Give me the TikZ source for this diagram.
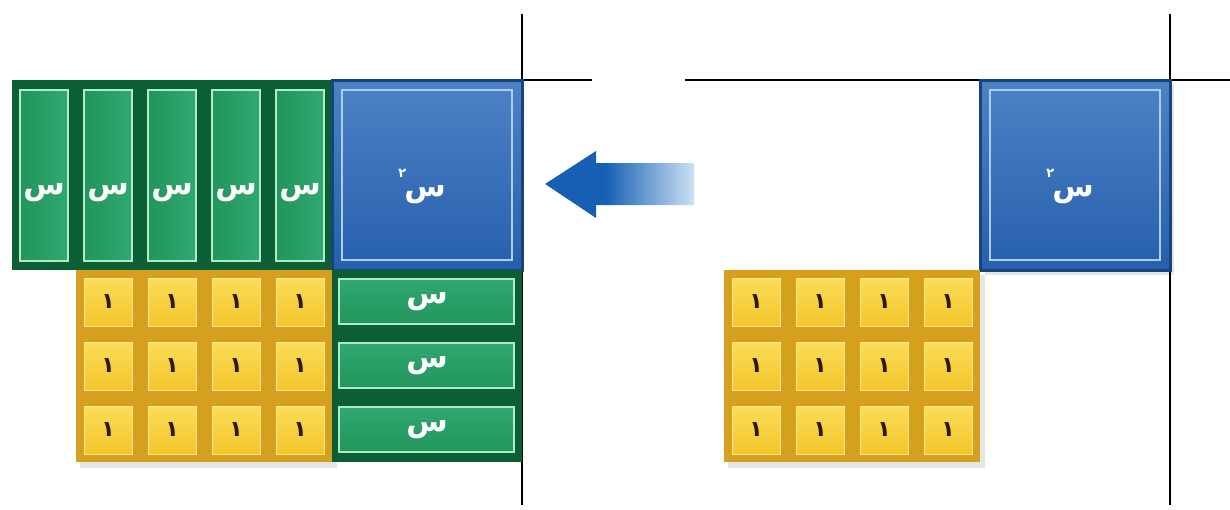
\documentclass[tikz,border=0pt]{standalone}
\usepackage{fontspec}
\newfontfamily\arabicfont[Script=Arabic]{DejaVu Sans}
\TeXXeTstate=1
\definecolor{gdark}{RGB}{12,95,52}
\definecolor{gleft}{RGB}{30,145,85}
\definecolor{gright}{RGB}{52,172,118}
\definecolor{gline}{RGB}{175,235,200}
\definecolor{bdark}{RGB}{22,68,125}
\definecolor{btop}{RGB}{78,130,198}
\definecolor{bbot}{RGB}{38,95,172}
\definecolor{bline}{RGB}{175,205,240}
\definecolor{ydark}{RGB}{212,160,30}
\definecolor{ytop}{RGB}{252,225,95}
\definecolor{ybot}{RGB}{242,192,35}
\definecolor{yline}{RGB}{250,232,150}
\definecolor{ytext}{RGB}{40,25,10}
\definecolor{adark}{RGB}{22,95,178}
\definecolor{alight}{RGB}{205,225,245}
\pgfdeclarehorizontalshading{arrowfade}{100bp}{color(0bp)=(adark); color(25bp)=(adark); color(45bp)=(adark); color(75bp)=(alight); color(100bp)=(alight)}
\tikzset{
  axisline/.style={black, line width=1.6pt},
  xlab/.style={font=\arabicfont\bfseries\fontsize{30}{32}\selectfont, text=white},
  onelab/.style={font=\arabicfont\bfseries\fontsize{22}{24}\selectfont, text=ytext},
  vstrip/.style={xlab, minimum width=64pt, minimum height=190pt, inner sep=0pt, outer sep=0pt,
    text height=38pt, text depth=0pt,
    anchor=north west, fill=gdark,
    path picture={\draw[gline, line width=1.3pt, left color=gleft, right color=gright]
      ([shift={(8pt,-10pt)}]path picture bounding box.north west) rectangle
      ([shift={(-8pt,9pt)}]path picture bounding box.south east);}},
  hstrip/.style={xlab, minimum width=190pt, minimum height=64pt, inner sep=0pt, outer sep=0pt,
    anchor=north west, fill=gdark,
    path picture={\draw[gline, line width=1.3pt, top color=gright, bottom color=gleft]
      ([shift={(7pt,-9pt)}]path picture bounding box.north west) rectangle
      ([shift={(-8pt,10pt)}]path picture bounding box.south east);}},
  xsq/.style={xlab, minimum width=190pt, minimum height=190pt, inner sep=0pt, outer sep=0pt,
    text height=42pt, text depth=0pt,
    anchor=north west, draw=bdark, line width=3pt, top color=btop, bottom color=bbot,
    path picture={\draw[bline, line width=1.3pt]
      ([shift={(10pt,-10pt)}]path picture bounding box.north west) rectangle
      ([shift={(-10pt,10pt)}]path picture bounding box.south east);}},
  unit/.style={onelab, minimum width=64pt, minimum height=64pt, inner sep=0pt, outer sep=0pt,
    anchor=north west, fill=ydark,
    path picture={\draw[yline, line width=1pt, top color=ytop, bottom color=ybot]
      ([shift={(8pt,-8pt)}]path picture bounding box.north west) rectangle
      ([shift={(-8pt,8pt)}]path picture bounding box.south east);}},
  shadowbox/.style={fill=black, opacity=0.10}
}
\newcommand{\xsqtext}{\beginR\kern10pt س\kern-2pt\raisebox{0.62em}{\fontsize{13}{13}\selectfont ٢}\endR}
\begin{document}
\begin{tikzpicture}[x=1pt,y=-1pt]
\useasboundingbox (0,0) rectangle (1230,509);
% axes
\coordinate (vLt) at (522,14); \coordinate (vLb) at (522,505);
\coordinate (hLl) at (522,80); \coordinate (hLr) at (592,80);
\coordinate (vRt) at (1170,14); \coordinate (vRb) at (1170,505);
\coordinate (hRl) at (685,80); \coordinate (hRr) at (1230,80);
\draw[axisline] (vLt) -- (vLb);
\draw[axisline] (hLl) -- (hLr);
\draw[axisline] (vRt) -- (vRb);
\draw[axisline] (hRl) -- (hRr);
% shadows
\fill[shadowbox] (80,275) rectangle (337,468);
\fill[shadowbox] (728,275) rectangle (985,468);
\fill[shadowbox] (985,85) rectangle (1174,275);
% left: x-strips and x^2
\foreach \k in {0,...,4}{
  \node[vstrip] (s\k) at ({12+64*\k},80) {\beginR س\endR};
}
\node[xsq] (bsqL) at (332,80) {\xsqtext};
% left: unit tiles
\foreach \i in {0,...,3}{
  \foreach \j in {0,...,2}{
    \node[unit] (uL\i\j) at ({76+64*\i},{270+64*\j}) {١};
  }
}
\foreach \j in {0,...,2}{
  \node[hstrip] (h\j) at (332,{270+64*\j}) {\beginR س\endR};
}
% right
\node[xsq] (bsqR) at (980,80) {\xsqtext};
\foreach \i in {0,...,3}{
  \foreach \j in {0,...,2}{
    \node[unit] (uR\i\j) at ({724+64*\i},{270+64*\j}) {١};
  }
}
% arrow
\shade[shading=arrowfade] (545,184) -- (596,151) -- (596,163) -- (694,163) -- (694,205) -- (596,205) -- (596,218) -- cycle;
\end{tikzpicture}
\end{document}
